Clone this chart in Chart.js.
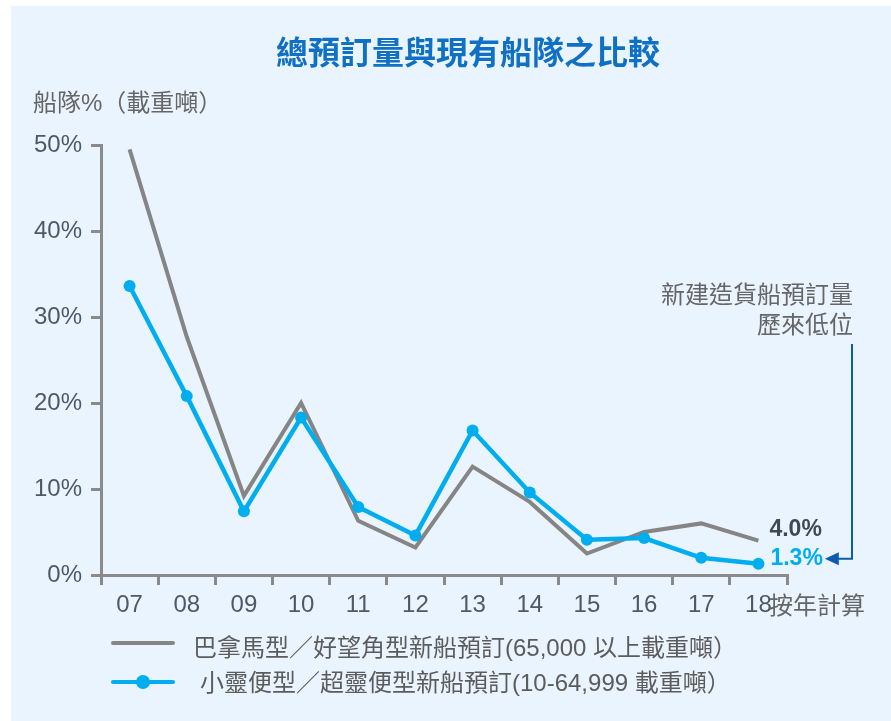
<!DOCTYPE html>
<html>
<head>
<meta charset="utf-8">
<script src="https://cdn.jsdelivr.net/npm/chart.js@4/dist/chart.umd.min.js"></script>
<style>
  html, body { margin:0; padding:0; background:#ffffff; }
  #wrap { position:relative; width:891px; height:721px; overflow:hidden; }
  #panel { position:absolute; left:11px; top:6px; right:0; bottom:0; background:#e9f4fe; }
  #c { position:absolute; left:0; top:0; }
  .t { position:absolute; white-space:nowrap; font-family:"Liberation Sans","Noto Sans CJK TC",sans-serif; }
</style>
</head>
<body>
<div id="wrap">
  <div id="panel"></div>
  <canvas id="c" width="891" height="721"></canvas>
  <div class="t" id="title"></div>
  <div class="t" id="ylab"></div>
  <div class="t" id="note"></div>
  <div class="t" id="xunit"></div>
  <div id="legend"></div>
</div>
<script>
// ---- data ----
const categories = ['07','08','09','10','11','12','13','14','15','16','17','18'];
const panamaxCapesize = [49.5, 27.7, 9.2, 20.0, 6.3, 3.2, 12.6, 8.5, 2.5, 5.0, 6.0, 4.0];
const handysizeSupramax = [33.6, 20.8, 7.4, 18.3, 7.9, 4.6, 16.8, 9.6, 4.1, 4.3, 2.0, 1.3];
const yTickValues = [0, 10, 20, 30, 40, 50];
const seriesNames = ['巴拿馬型／好望角型新船預訂(65,000 以上載重噸）', '小靈便型／超靈便型新船預訂(10-64,999 載重噸）'];
const endLabels = ['4.0%', '1.3%'];
const titleText = '總預訂量與現有船隊之比較';
const yAxisLabel = '船隊%（載重噸）';
const xAxisUnit = '按年計算';
const noteLines = ['新建造貨船預訂量', '歷來低位'];

// ---- styles ----
const GRAY = '#858585';
const BLUE = '#00aeef';
const AXIS = '#8a8a8a';
const TICKTXT = '#4d5966';
const TXT = '#666666';
const ARROW = '#0b5cad';

function place(id, text, opt) {
  const el = document.getElementById(id);
  el.textContent = text;
  Object.assign(el.style, opt);
}
place('title', titleText, {left:'0px', width:'936px', textAlign:'center', top:(53-20)+'px', lineHeight:'40px', fontSize:'32px', fontWeight:'bold', color:'#1070c4'});
place('ylab', yAxisLabel, {left:'33px', top:(103-15)+'px', lineHeight:'30px', fontSize:'24px', color:TXT});
place('xunit', xAxisUnit, {left:'769px', top:(606-15)+'px', lineHeight:'30px', fontSize:'24px', color:TXT});
const note = document.getElementById('note');
note.innerHTML = '';
noteLines.forEach(s => { const d = document.createElement('div'); d.textContent = s; note.appendChild(d); });
Object.assign(note.style, {right:(891-853)+'px', top:(295-15)+'px', lineHeight:'30px', fontSize:'24px', color:TXT, textAlign:'right'});

// legend
const legend = document.getElementById('legend');
const legendRows = [
  {name: seriesNames[0], color: GRAY, point: false, cy: 643, ty: 648, tx: 193},
  {name: seriesNames[1], color: BLUE, point: true, cy: 682, ty: 683, tx: 200}
];
legendRows.forEach(r => {
  const line = document.createElement('div');
  Object.assign(line.style, {position:'absolute', left:'111px', top:(r.cy-2)+'px', width:'64px', height:'4px', background:r.color, borderRadius:'2px'});
  legend.appendChild(line);
  if (r.point) {
    const p = document.createElement('div');
    Object.assign(p.style, {position:'absolute', left:(143-7)+'px', top:(r.cy-7)+'px', width:'14px', height:'14px', background:r.color, borderRadius:'50%'});
    legend.appendChild(p);
  }
  const t = document.createElement('div');
  t.className = 't';
  t.textContent = r.name;
  Object.assign(t.style, {left:r.tx+'px', top:(r.ty-15)+'px', lineHeight:'30px', fontSize:'24px', color:'#5c5c5c'});
  legend.appendChild(t);
});

// end labels + arrow plugin
const endLabelPlugin = {
  id: 'endLabels',
  afterDatasetsDraw(chart) {
    const ctx = chart.ctx;
    const xs = chart.scales.x, ys = chart.scales.y;
    const last = categories.length - 1;
    const px = xs.getPixelForValue(last);
    ctx.save();
    ctx.font = 'bold 23px "Liberation Sans", sans-serif';
    ctx.textBaseline = 'middle';
    ctx.textAlign = 'left';
    ctx.fillStyle = '#3f4953';
    ctx.fillText(endLabels[0], px + 11, ys.getPixelForValue(panamaxCapesize[last]) - 11);
    const by = ys.getPixelForValue(handysizeSupramax[last]) - 5;
    ctx.fillStyle = BLUE;
    ctx.fillText(endLabels[1], px + 12, by);
    const w = ctx.measureText(endLabels[1]).width;
    const tipX = px + 12 + w + 2;
    const vx = 852;
    ctx.strokeStyle = ARROW;
    ctx.lineWidth = 2;
    ctx.beginPath();
    ctx.moveTo(vx, 344);
    ctx.lineTo(vx, by);
    ctx.lineTo(tipX + 12, by);
    ctx.stroke();
    ctx.fillStyle = ARROW;
    ctx.beginPath();
    ctx.moveTo(tipX, by);
    ctx.lineTo(tipX + 14, by - 6.5);
    ctx.lineTo(tipX + 14, by + 6.5);
    ctx.closePath();
    ctx.fill();
    ctx.restore();
  }
};

new Chart(document.getElementById('c'), {
  type: 'line',
  data: {
    labels: categories,
    datasets: [
      {label: seriesNames[0], data: panamaxCapesize, borderColor: GRAY, backgroundColor: GRAY, borderWidth: 4, pointRadius: 0, tension: 0, order: 1},
      {label: seriesNames[1], data: handysizeSupramax, borderColor: BLUE, backgroundColor: BLUE, borderWidth: 4.5, pointRadius: 6, pointBorderWidth: 0, pointBackgroundColor: BLUE, tension: 0, order: 0}
    ]
  },
  options: {
    responsive: false,
    animation: false,
    layout: {padding: {left: 0, top: 145, right: 104, bottom: 0}},
    plugins: {legend: {display: false}, title: {display: false}, tooltip: {enabled: false}},
    scales: {
      x: {
        type: 'category',
        offset: true,
        afterFit(s) { s.height = 146; },
        grid: {offset: true, drawOnChartArea: false, drawTicks: true, tickLength: 10, color: AXIS, lineWidth: 3},
        border: {display: true, color: AXIS, width: 3},
        ticks: {color: TICKTXT, font: {family: 'Liberation Sans', size: 24}, padding: 6, maxRotation: 0, autoSkip: false}
      },
      y: {
        min: 0, max: 50,
        afterFit(s) { s.width = 101; },
        afterBuildTicks(s) { s.ticks = yTickValues.map(v => ({value: v})); },
        grid: {drawOnChartArea: false, drawTicks: true, tickLength: 10, color: AXIS, lineWidth: 3},
        border: {display: true, color: AXIS, width: 3},
        ticks: {color: TICKTXT, font: {family: 'Liberation Sans', size: 24}, padding: 9, callback: v => v + '%'}
      }
    }
  },
  plugins: [endLabelPlugin]
});
</script>
</body>
</html>
